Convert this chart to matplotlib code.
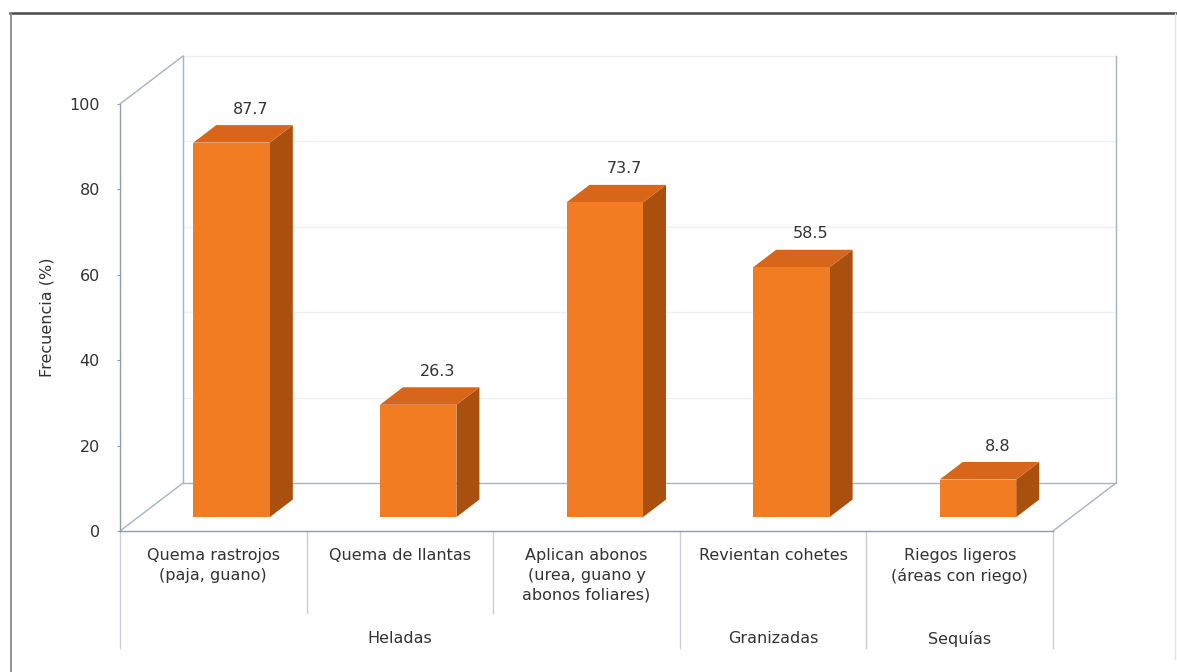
import matplotlib
matplotlib.use("Agg")
import matplotlib.pyplot as plt
from matplotlib.patches import Polygon
from matplotlib.lines import Line2D

# Prácticas para contrarrestar fenómenos climáticos
practicas = [
    "Quema rastrojos\n(paja, guano)",
    "Quema de llantas",
    "Aplican abonos\n(urea, guano y\nabonos foliares)",
    "Revientan cohetes",
    "Riegos ligeros\n(áreas con riego)",
]
frecuencia = [87.7, 26.3, 73.7, 58.5, 8.8]
fenomenos = ["Heladas", "Granizadas", "Sequías"]
grupo_inicio = [0, 3, 4]
grupo_fin = [3, 4, 5]
y_ticks = [0, 20, 40, 60, 80, 100]

W, H = 1177, 672
AXIS = "#8d9bb3"
WALL = "#a7b3c6"
GRID = "#eef0f3"
TEXT = "#333333"
FRONT = "#f27c22"
TOP = "#d7661b"
SIDE = "#a9500f"
FS = 11.5

# fake 3D: depth of the floor in data units, bars sit between F0 and F1
DX, DY = 0.3376, 11.24
F0, F1 = 0.29, 0.655
BAR_W = 0.41


def proj(x, y, f):
    return (x + f * DX, y + f * DY)


plt.rcParams["font.family"] = ["DejaVu Sans"]
fig = plt.figure(figsize=(W / 100, H / 100), dpi=100)
ax = fig.add_axes([120 / W, 141 / H, 933 / W, 427 / H])
ax.set_xlim(0, 5)
ax.set_ylim(0, 100)
ax.patch.set_alpha(0)

for s in ["top", "right"]:
    ax.spines[s].set_visible(False)
for s in ["left", "bottom"]:
    ax.spines[s].set_color(AXIS)
    ax.spines[s].set_linewidth(1.0)

ax.set_xticks([])
ax.set_yticks(y_ticks)
ax.tick_params(axis="y", direction="out", length=2.5, color=AXIS,
               labelsize=FS, labelcolor=TEXT, pad=12)
ax.set_ylabel("Frecuencia (%)", fontsize=FS, color=TEXT, labelpad=11)

# back wall gridlines
for v in y_ticks[1:]:
    ax.plot([proj(0, v, 1)[0], proj(5, v, 1)[0]], [v + DY, v + DY],
            color=GRID, lw=1.0, zorder=1, clip_on=False)

# walls and floor edges
wall_lines = [
    [proj(0, 0, 1), proj(0, 100, 1)],
    [proj(5, 0, 1), proj(5, 100, 1)],
    [proj(0, 0, 1), proj(5, 0, 1)],
    [proj(0, 0, 0), proj(0, 0, 1)],
    [proj(5, 0, 0), proj(5, 0, 1)],
    [proj(0, 100, 0), proj(0, 100, 1)],
]
for (a, b) in wall_lines:
    ax.plot([a[0], b[0]], [a[1], b[1]], color=WALL, lw=1.0, zorder=2,
            clip_on=False)

# bars
for i, v in enumerate(frecuencia):
    x0 = i + 0.5 - BAR_W / 2
    x1 = x0 + BAR_W
    front = [proj(x0, 0, F0), proj(x1, 0, F0), proj(x1, v, F0), proj(x0, v, F0)]
    side = [proj(x1, 0, F0), proj(x1, 0, F1), proj(x1, v, F1), proj(x1, v, F0)]
    top = [proj(x0, v, F0), proj(x1, v, F0), proj(x1, v, F1), proj(x0, v, F1)]
    for pts, c in [(side, SIDE), (top, TOP), (front, FRONT)]:
        ax.add_patch(Polygon(pts, closed=True, facecolor=c, edgecolor="none",
                             zorder=3, clip_on=False))
    ax.annotate(f"{v:.1f}", xy=proj(i + 0.5, v, F1), xytext=(-2.5, 11.5),
                textcoords="offset points", ha="center", va="center",
                fontsize=FS, color=TEXT, zorder=5)

# category labels and two-level dividers
bordes = set(grupo_inicio) | set(grupo_fin)
for k in range(len(practicas) + 1):
    low = -27.5 if k in bordes else -19.1
    ax.plot([k, k], [0, low], color="#c9ced8", lw=1.0, clip_on=False)

for i, lab in enumerate(practicas):
    ax.text(i + 0.5, -4.0, lab, ha="center", va="top", fontsize=FS,
            color=TEXT, linespacing=1.38)

for nombre, a, b in zip(fenomenos, grupo_inicio, grupo_fin):
    ax.text((a + b) / 2, -25.2, nombre, ha="center", va="center",
            fontsize=FS, color=TEXT)

# page frame: dark rule on top, light edges at the sides
fig.add_artist(Line2D([10 / W, 1177 / W], [1 - 13 / H, 1 - 13 / H],
                      transform=fig.transFigure, color="#4a4a4a", lw=1.8))
fig.add_artist(Line2D([10.5 / W, 10.5 / W], [0, 1 - 13 / H],
                      transform=fig.transFigure, color="#8a8a8a", lw=1.3))
fig.add_artist(Line2D([1175 / W, 1175 / W], [0.02, 1 - 13 / H],
                      transform=fig.transFigure, color="#e4e4e4", lw=1.0))

fig.savefig("out.png", dpi=100, facecolor="white")
